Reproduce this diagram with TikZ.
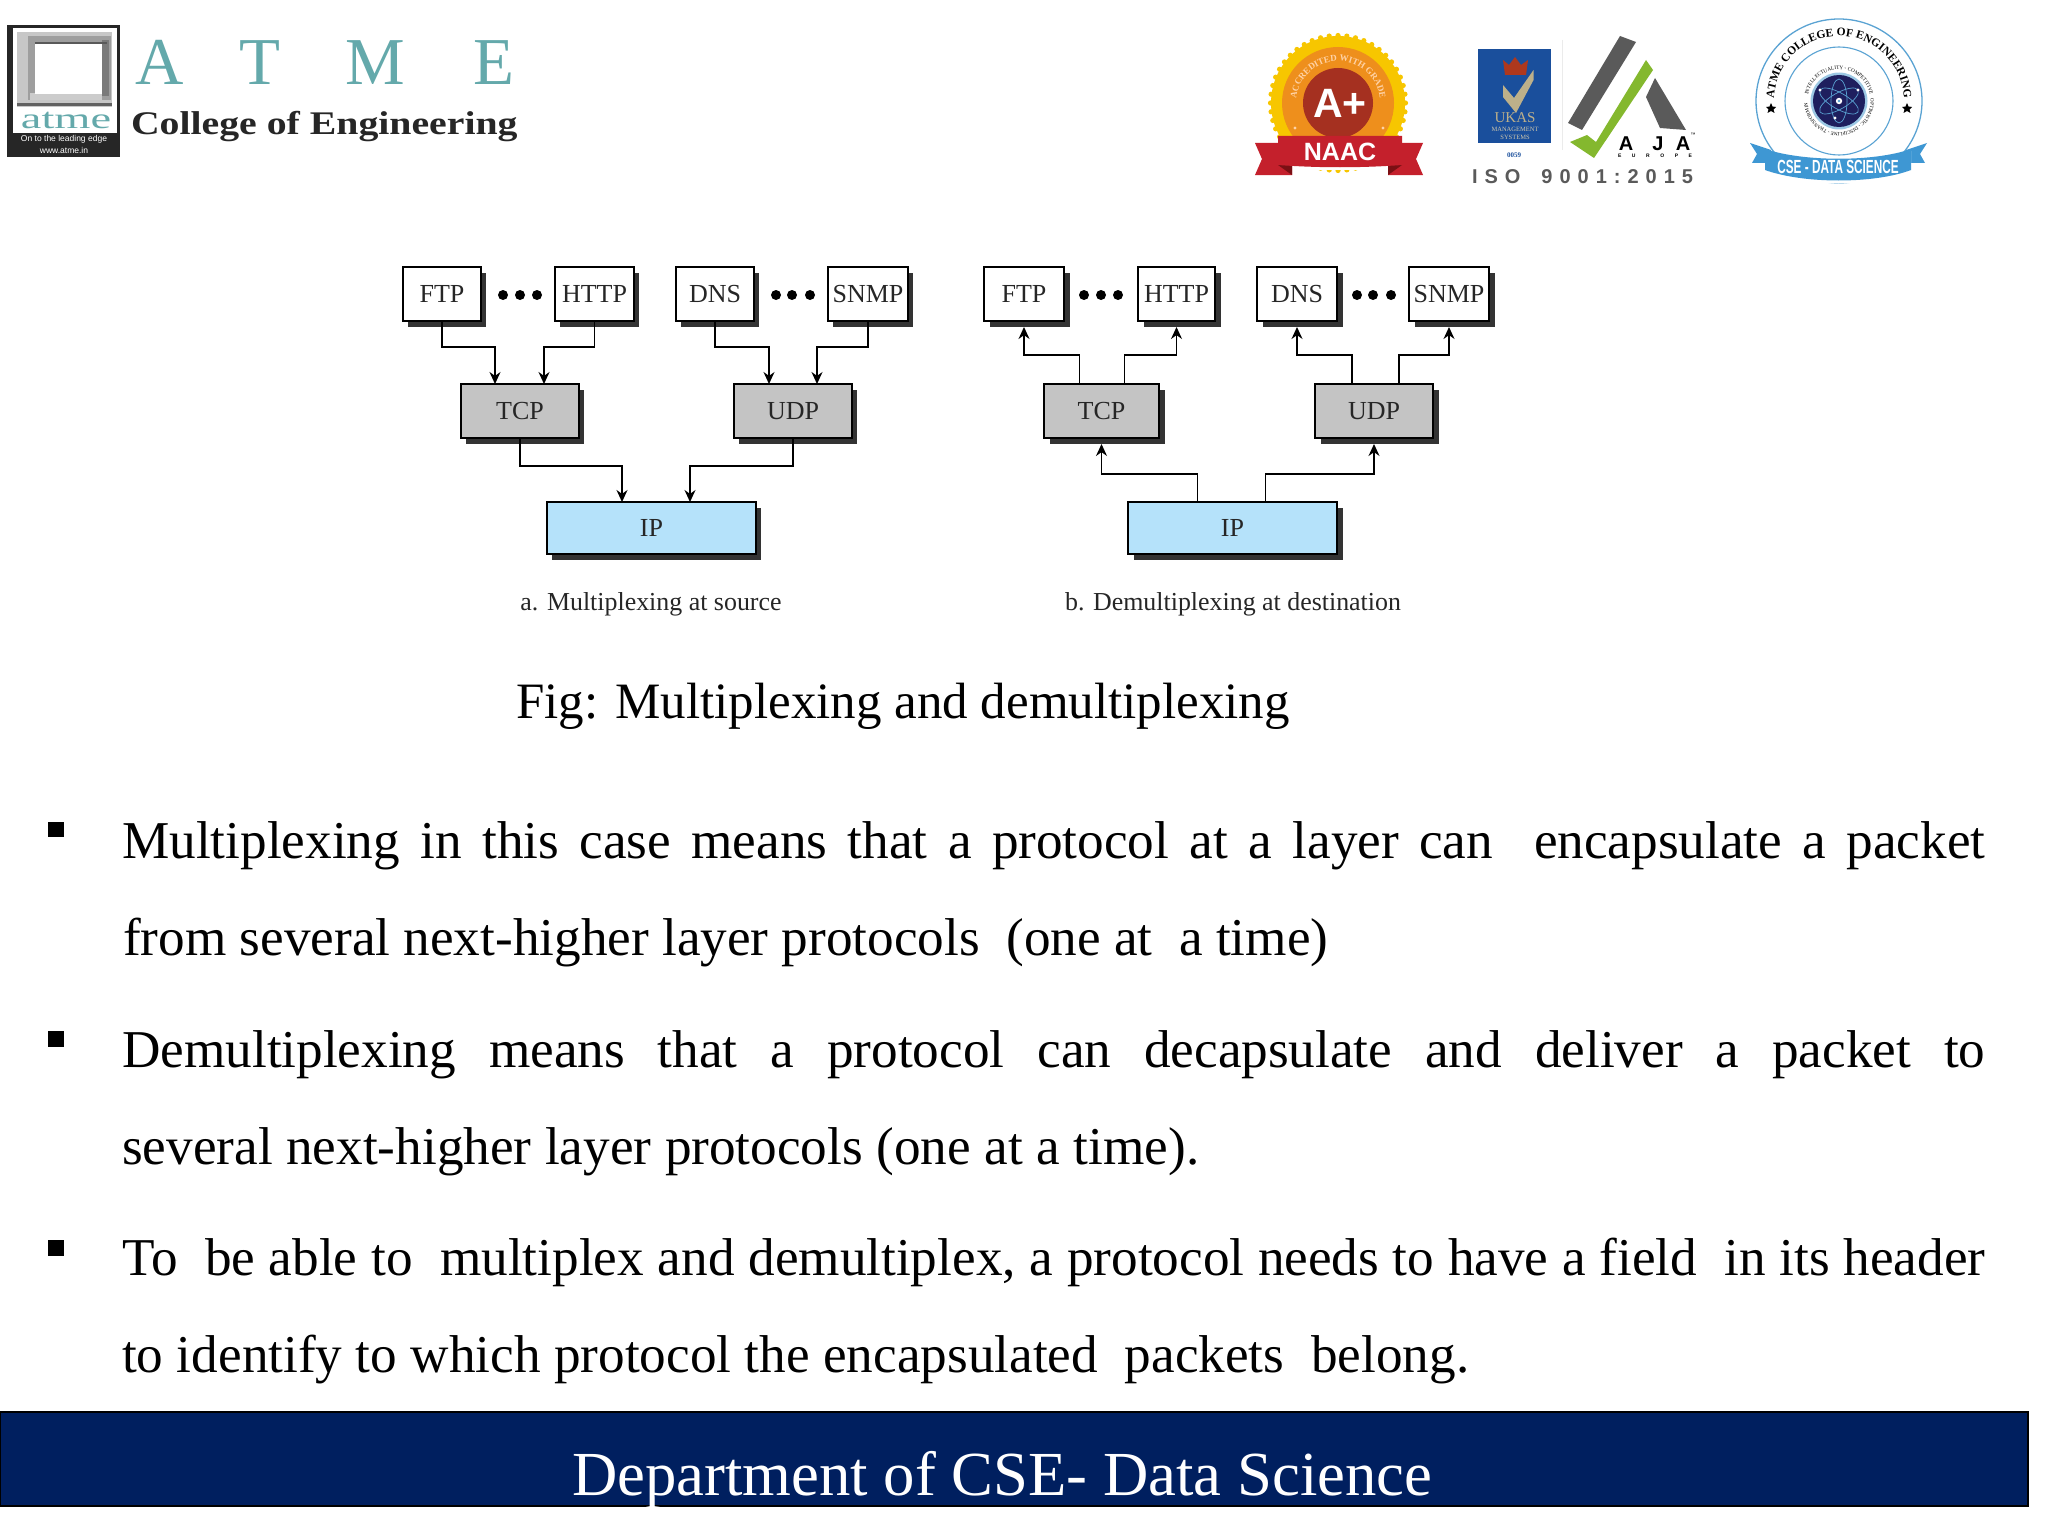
\documentclass[tikz,border=0pt]{standalone}
\usepackage{fontspec}
\usepackage{graphicx}
\setmainfont{Liberation Serif}
\newfontfamily\lsans{Liberation Sans}
\usetikzlibrary{arrows.meta,shadows,decorations.text}
\newcommand{\pxsize}[1]{\fontsize{#1}{#1}\selectfont}
\newcommand{\shx}{4.5pt}
\definecolor{navyband}{HTML}{001F5F}
\definecolor{shad}{HTML}{333333}
\definecolor{tcpgrey}{HTML}{C4C4C4}
\definecolor{ipblue}{HTML}{B5E2FA}
\definecolor{teal}{HTML}{64A9AB}
\definecolor{dtext}{HTML}{262626}
\definecolor{gold}{HTML}{F7C600}
\definecolor{orangering}{HTML}{EE8F1C}
\definecolor{naacred}{HTML}{A53020}
\definecolor{ribred}{HTML}{C4202C}
\definecolor{ribdark}{HTML}{7A1014}
\definecolor{ukasblue}{HTML}{1A4F9C}
\definecolor{tan}{HTML}{BDB08A}
\definecolor{ajagrey}{HTML}{5A5A5A}
\definecolor{ajagreen}{HTML}{84B82E}
\definecolor{cseblue}{HTML}{5AA3D3}
\definecolor{ribblue}{HTML}{3E97D3}
\definecolor{atomnavy}{HTML}{1E1F5E}
\tikzset{
  proto/.style={draw=black,line width=1.4pt,inner sep=0pt,outer sep=0pt,text=dtext,
    font=\pxsize{26},
    drop shadow={shadow xshift=\shx,shadow yshift=-6pt,fill=shad,opacity=1}},
  appbox/.style={proto,fill=white,minimum height=54pt},
  tcpbox/.style={proto,fill=tcpgrey,minimum height=54pt},
  ipbox/.style={proto,fill=ipblue,minimum width=209pt,minimum height=52pt},
  conn/.style={draw=black,line width=1.3pt,-{Stealth[length=12pt,width=11pt]}},
  sub/.style={inner sep=0pt,text=dtext,font=\pxsize{25.9}},
  body/.style={anchor=base west,inner sep=0pt,text=black,font=\pxsize{53.2}},
  lbl/.style={inner sep=0pt,outer sep=0pt}
}
\begin{document}
\begin{tikzpicture}[x=1pt,y=-1pt]
\useasboundingbox (0,0) rectangle (2048,1536);
\fill[white] (0,0) rectangle (2048,1536);

% ---------- ATME logo
\fill[black!85] (7,25) rectangle (120,157);
\fill[white] (13,28) rectangle (117,133);
\fill[black!22] (17,32) rectangle (112,107);
\fill[black!38] (28,36) rectangle (111,100);
\fill[black!52] (102,40) rectangle (109,96);
\fill[black!20] (30,93) rectangle (102,100);
\fill[white] (35,43) rectangle (102,94);
\draw[black!65,line width=2pt] (35,43) -- (107,43);
\draw[black!62,line width=3pt] (17,105) -- (112,105);
\node[lbl,anchor=base,text=teal] (atmesmall) at (66,129) {\pxsize{29}\scalebox{1.6}[1]{atme}};
\node[lbl,text=white] (atmetag) at (64,139) {\lsans\pxsize{8.5}On to the leading edge};
\node[lbl,text=white] (atmeweb) at (64,150) {\lsans\pxsize{8.5}www.atme.in};
\node[lbl,anchor=base,text=teal] (la) at (160,85) {\pxsize{67}A};
\node[lbl,anchor=base,text=teal] (lt) at (259.5,85) {\pxsize{67}T};
\node[lbl,anchor=base,text=teal] (lm) at (375.5,85) {\pxsize{67}M};
\node[lbl,anchor=base,text=teal] (le) at (493.5,85) {\pxsize{67}E};
\node[lbl,anchor=base west,text=dtext] (college) at (131,135) {\pxsize{33}\scalebox{1.205}[1]{\bfseries College of Engineering}};

% ---------- NAAC badge
\begin{scope}[shift={(1338,103)},x=1pt,y=1pt]
  \foreach \a in {0,7.5,...,352.5} \fill[gold] (\a:67.5) circle[radius=2.6];
  \fill[gold] (0,0) circle[radius=67];
  \fill[orangering] (0,0) circle[radius=56];
  \fill[naacred] (0,0) circle[radius=35];
  \path[decorate,decoration={text along path,text align=center,
    text={|\pxsize{9}\bfseries\color{orange!35!white}|ACCREDITED WITH GRADE}}]
    (195:42) arc[start angle=195,end angle=-15,radius=42];
  \fill[orange!35!white] (-43,-25) circle[radius=1.6] (45,-25) circle[radius=1.6];
\end{scope}
\fill[white] (1293,166) rectangle (1388,170);
\fill[ribred] (1255,143) -- (1292,143) -- (1292,175) -- (1255,175) -- (1262,159) -- cycle;
\fill[ribred] (1423,143) -- (1388,143) -- (1388,175) -- (1423,175) -- (1416,159) -- cycle;
\fill[ribdark] (1278,165) -- (1292,165) -- (1292,175) -- cycle;
\fill[ribdark] (1402,165) -- (1388,165) -- (1388,175) -- cycle;
\fill[ribred] (1278,136) -- (1402,136) -- (1402,165) .. controls (1360,168) and (1320,168) .. (1278,165) -- cycle;
\node[lbl,text=white] (aplus) at (1340,103) {\lsans\bfseries\pxsize{41}A+};
\node[lbl,text=white] (naac) at (1340,152) {\lsans\bfseries\pxsize{25}NAAC};

% ---------- UKAS + AJA
\fill[ukasblue] (1478,49) rectangle (1551,143);
\fill[naacred!90!orange] (1503,60) -- (1509,65) -- (1515,57) -- (1521,65) -- (1528,60) -- (1526,75) -- (1505,75) -- cycle;
\fill[tan] (1503,85) -- (1514,98) -- (1533.5,70) -- (1533.5,80) -- (1516,113) -- (1503,97) -- cycle;
\node[lbl,text=tan] (ukas) at (1515,118) {\pxsize{15}UKAS};
\node[lbl,text=tan!70!white] (ukasm) at (1515,129) {\pxsize{6.5}MANAGEMENT};
\node[lbl,text=tan!70!white] (ukass) at (1515,137) {\pxsize{6.5}SYSTEMS};
\node[lbl,text=ukasblue] (ukasn) at (1514,155) {\pxsize{7}\bfseries 0059};
\draw[black!8,line width=1pt] (1562,40) -- (1562,150);
\fill[ajagrey] (1620,36) -- (1636,42) -- (1582,130) -- (1568,123) -- cycle;
\fill[ajagrey] (1655,78) -- (1686,130) -- (1660,128) -- (1646,97) -- cycle;
\fill[ajagreen] (1646,60) -- (1653,70) -- (1594,158) -- (1570,142) -- (1587,135) -- (1596,142) -- cycle;
\node[lbl,anchor=base] (aja1) at (1626,150) {\lsans\bfseries\pxsize{20}A};
\node[lbl,anchor=base] (aja2) at (1658,150) {\lsans\bfseries\pxsize{20}J};
\node[lbl,anchor=base] (aja3) at (1683,150) {\lsans\bfseries\pxsize{20}A};
\node[lbl] (ajatm) at (1693,135) {\lsans\pxsize{5}™};
\node[lbl] (ajaeu) at (1655,156) {\lsans\bfseries\pxsize{5}\hbox to 74pt{E\hfill U\hfill R\hfill O\hfill P\hfill E}};
\node[lbl,anchor=base west,text=ajagrey] (iso) at (1472,183) {\lsans\bfseries\pxsize{20}\hbox to 221pt{I\hfill S\hfill O\hfill\hfill\hfill 9\hfill 0\hfill 0\hfill 1\hfill :\hfill 2\hfill 0\hfill 1\hfill 5}};

% ---------- CSE logo
\begin{scope}[shift={(1839,101)},x=1pt,y=1pt]
  \draw[cseblue,line width=1.3pt,fill=white] (0,0) ellipse[x radius=83,y radius=82];
  \draw[cseblue,line width=1.1pt] (0,0) circle[radius=54];
  \fill[cseblue!60] (0,0) circle[radius=28.5];
  \fill[atomnavy] (0,0) circle[radius=26];
  \foreach \r in {90,30,150} \draw[cseblue,line width=.7pt,rotate=\r] (0,0) ellipse[x radius=22,y radius=8];
  \fill[white] (0,0) circle[radius=3.2];
  \fill[cseblue] (0,0) circle[radius=1.3];
  \fill[white] (-19,11) circle[radius=1.6] (19,11) circle[radius=1.6] (-4,-17) circle[radius=1.6];
  \path[decorate,decoration={text along path,text align=center,
    text={|\pxsize{11.5}\bfseries|ATME COLLEGE OF ENGINEERING}}]
    (190:65) arc[start angle=190,end angle=-10,radius=65];
  \path[decorate,decoration={text along path,text align=center,
    text={|\pxsize{5.2}|INTELLECTUALITY - COMPETITIVE}}]
    (175:31.5) arc[start angle=175,end angle=5,radius=31.5];
  \path[decorate,decoration={text along path,text align=center,
    text={|\pxsize{5}|OPTIMISTIC - DISCIPLINE - TRANSFORMING}}]
    (-5:31.5) arc[start angle=-5,end angle=-175,radius=31.5];
  \fill[ribblue] (-89,-42) -- (-68,-49) -- (-68,-62) -- (-87,-62) -- (-82,-53) -- cycle;
  \fill[ribblue] (88,-42) -- (67,-49) -- (67,-62) -- (86,-62) -- (81,-53) -- cycle;
  \fill[white] (-74,-50) .. controls (-35,-63) and (35,-63) .. (72,-50) -- (72,-72) .. controls (35,-86) and (-35,-86) .. (-74,-72) -- cycle;
  \fill[ribblue] (-74,-48) .. controls (-35,-61) and (35,-61) .. (72,-48) -- (72,-69) .. controls (35,-83) and (-35,-83) .. (-74,-69) -- cycle;
\end{scope}
\fill[black] (1771,103) -- (1772.5,106.5) -- (1776,107) -- (1773.5,109.5) -- (1774.5,113) -- (1771,111) -- (1767.5,113) -- (1768.5,109.5) -- (1766,107) -- (1769.5,106.5) -- cycle;
\fill[black] (1907,103) -- (1908.5,106.5) -- (1912,107) -- (1909.5,109.5) -- (1910.5,113) -- (1907,111) -- (1903.5,113) -- (1904.5,109.5) -- (1902,107) -- (1905.5,106.5) -- cycle;
\node[lbl,text=white] (cseds) at (1838,167) {\lsans\bfseries\pxsize{19}\scalebox{.62}[1]{CSE - DATA SCIENCE}};

% ---------- Diagram a
\node[appbox,minimum width=78pt] (fa) at (442,294) {FTP};
\node[appbox,minimum width=79pt] (ha) at (594.5,294) {HTTP};
\node[appbox,minimum width=78pt] (da) at (715,294) {DNS};
\node[appbox,minimum width=80pt] (sa) at (868,294) {SNMP};
\node[tcpbox,minimum width=118pt] (ta) at (520,411) {TCP};
\node[tcpbox,minimum width=118pt] (ua) at (793,411) {UDP};
\node[ipbox] (ia) at (651.5,528) {IP};
\foreach \x in {503,520,537,776,792,810} \fill[black] (\x,295) circle[radius=5];
\draw[conn] (fa.south) -- ++(0,26) -| ([xshift=-25pt]ta.north);
\draw[conn] (ha.south) -- ++(0,26) -| ([xshift=24pt]ta.north);
\draw[conn] (da.south) -- ++(0,26) -| ([xshift=-24pt]ua.north);
\draw[conn] (sa.south) -- ++(0,26) -| ([xshift=24pt]ua.north);
\draw[conn] (ta.south) -- ++(0,28) -| ([xshift=-29.5pt]ia.north);
\draw[conn] (ua.south) -- ++(0,28) -| ([xshift=38.5pt]ia.north);
\node[sub] (capa) at (651,604) {a. Multiplexing at source};

% ---------- Diagram b
\renewcommand{\shx}{6pt}
\node[appbox,minimum width=80pt] (fb) at (1024,294) {FTP};
\node[appbox,minimum width=77pt] (hb) at (1176.5,294) {HTTP};
\node[appbox,minimum width=80pt] (db) at (1297,294) {DNS};
\node[appbox,minimum width=80pt] (sb) at (1449,294) {SNMP};
\node[tcpbox,minimum width=115pt] (tb) at (1101.5,411) {TCP};
\node[tcpbox,minimum width=118pt] (ub) at (1374,411) {UDP};
\node[ipbox] (ib) at (1232.5,528) {IP};
\foreach \x in {1084,1101,1118,1357,1373,1391} \fill[black] (\x,295) circle[radius=5];
\draw[conn] ([xshift=-22pt]tb.north) -- ++(0,-29) -| ([yshift=-6pt]fb.south);
\draw[conn] ([xshift=23pt]tb.north) -- ++(0,-29) -| ([yshift=-6pt]hb.south);
\draw[conn] ([xshift=-22pt]ub.north) -- ++(0,-29) -| ([yshift=-6pt]db.south);
\draw[conn] ([xshift=25pt]ub.north) -- ++(0,-29) -| ([yshift=-6pt]sb.south);
\draw[conn] ([xshift=-35pt]ib.north) -- ++(0,-28) -| ([yshift=-6pt]tb.south);
\draw[conn] ([xshift=33pt]ib.north) -- ++(0,-28) -| ([yshift=-6pt]ub.south);
\node[sub] (capb) at (1233,604) {b. Demultiplexing at destination};

% ---------- Texts
\node[body,font=\pxsize{51}] (fig) at (516,718) {Fig: Multiplexing and demultiplexing};
\fill[black] (48,822) rectangle (64,837);
\fill[black] (48,1031) rectangle (64,1047);
\fill[black] (48,1240) rectangle (64,1256);
\node[body] (l1) at (122,858) {\hbox to 1863pt{Multiplexing in this case means that a protocol at a layer can\ \ encapsulate a packet}};
\node[body] (l2) at (123,955) {\hbox to 1205pt{from several next-higher layer protocols\ \ (one at\ \ a time)}};
\node[body] (l3) at (122,1067) {\hbox to 1863pt{Demultiplexing means that a protocol can decapsulate and deliver a packet to}};
\node[body] (l4) at (122,1164) {\hbox to 1077pt{several next-higher layer protocols (one at a time).}};
\node[body] (l5) at (122,1275) {\hbox to 1863pt{To\ \ be able to\ \ multiplex and demultiplex, a protocol needs to have a field\ \ in its header}};
\node[body] (l6) at (122,1372) {\hbox to 1347pt{to identify to which protocol the encapsulated\ \ packets\ \ belong.}};

% ---------- Footer
\draw[black,line width=2pt,fill=navyband] (0,1412) rectangle (2028,1506);
\node[body,text=white,font=\pxsize{62.7}] (foot) at (572,1495) {Department of CSE- Data Science};
\end{tikzpicture}
\end{document}
